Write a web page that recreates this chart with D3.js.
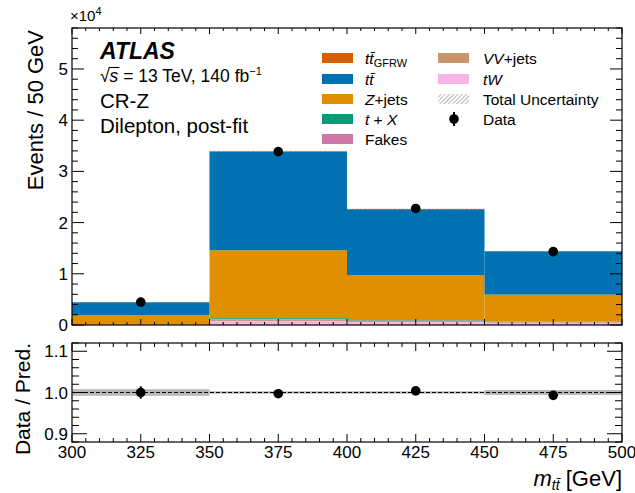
<!DOCTYPE html>
<html><head><meta charset="utf-8">
<script src="https://d3js.org/d3.v7.min.js"></script>
<style>body{margin:0;background:#fff}svg{font-family:"Liberation Sans",Arial,sans-serif}</style>
</head><body><svg id="c" width="635" height="493"></svg>
<script>
// ---- data ----
const binEdges = [300, 350, 400, 450, 500];
const ttGFRW = [20, 80, 60, 40];
const ttbar  = [2530, 19270, 12840, 8460];
const zjets  = [1850, 13250, 8800, 5200];
const tX     = [20, 150, 100, 80];
const fakes  = [10, 100, 70, 50];
const vvjets = [20, 300, 200, 150];
const tW     = [10, 800, 600, 450];
const dataVals = [4460, 33850, 22760, 14330];
const dataErr  = [67, 184, 151, 120];
const uncRel   = [0.008, 0.003, 0.003, 0.006];
const xTicks = [300, 325, 350, 375, 400, 425, 450, 475, 500];
const yTicks = [0, 1, 2, 3, 4, 5];
const rTicks = [0.9, 1.0, 1.1];

const stackOrder = [
  {name:"tW", vals:tW, color:"#f8b4e2"},
  {name:"VV+jets", vals:vvjets, color:"#c8966a"},
  {name:"Fakes", vals:fakes, color:"#cc79a7"},
  {name:"t+X", vals:tX, color:"#009e73"},
  {name:"Z+jets", vals:zjets, color:"#e08f00"},
  {name:"tt", vals:ttbar, color:"#0072b2"},
  {name:"ttGFRW", vals:ttGFRW, color:"#d55e00"}
];

const svg = d3.select("#c");
const L = 72, R = 622, mT = 28, mB = 325, rT = 343, rB = 442;
const x = d3.scaleLinear().domain([300, 500]).range([L, R]);
const y = d3.scaleLinear().domain([0, 5.8e4]).range([mB, mT]);
const yr = d3.scaleLinear().domain([0.88, 1.12]).range([rB, rT]);

const defs = svg.append("defs");
const pat = defs.append("pattern").attr("id","hatch").attr("patternUnits","userSpaceOnUse")
  .attr("width",3).attr("height",3).attr("patternTransform","rotate(45)");
pat.append("line").attr("x1",0).attr("y1",0).attr("x2",0).attr("y2",3).attr("stroke","#888").attr("stroke-width",1.2);

// stacked bars
const nb = binEdges.length - 1;
const bins = d3.range(nb);
const base = bins.map(() => 0);
stackOrder.forEach(s => {
  svg.append("g").selectAll("rect").data(bins).join("rect")
    .attr("x", i => x(binEdges[i]))
    .attr("width", i => x(binEdges[i+1]) - x(binEdges[i]))
    .attr("y", i => y(base[i] + s.vals[i]))
    .attr("height", i => y(base[i]) - y(base[i] + s.vals[i]))
    .attr("fill", s.color);
  bins.forEach(i => base[i] += s.vals[i]);
});
const total = base.slice();
// uncertainty hatch
svg.append("g").selectAll("rect").data(bins).join("rect")
  .attr("x", i => x(binEdges[i]))
  .attr("width", i => x(binEdges[i+1]) - x(binEdges[i]))
  .attr("y", i => y(total[i]*(1+uncRel[i])))
  .attr("height", i => Math.max(1.2, y(total[i]*(1-uncRel[i])) - y(total[i]*(1+uncRel[i]))))
  .attr("fill", "url(#hatch)");

// data points main
const dg = svg.append("g");
bins.forEach(i => {
  const cx = x((binEdges[i]+binEdges[i+1])/2);
  dg.append("line").attr("x1",cx).attr("x2",cx).attr("y1",y(dataVals[i]-dataErr[i])).attr("y2",y(dataVals[i]+dataErr[i])).attr("stroke","#000").attr("stroke-width",2);
  dg.append("circle").attr("cx",cx).attr("cy",y(dataVals[i])).attr("r",4.8).attr("fill","#000");
});

// ratio panel
bins.forEach(i => {
  svg.append("rect").attr("x", x(binEdges[i])).attr("width", x(binEdges[i+1]) - x(binEdges[i]))
    .attr("y", yr(1+uncRel[i])).attr("height", yr(1-uncRel[i]) - yr(1+uncRel[i]))
    .attr("fill", "#b8b8b8");
});
svg.append("line").attr("x1",L).attr("x2",R).attr("y1",yr(1)).attr("y2",yr(1)).attr("stroke","#000").attr("stroke-width",1).attr("stroke-dasharray","4,2");
bins.forEach(i => {
  const cx = x((binEdges[i]+binEdges[i+1])/2);
  const r = dataVals[i]/total[i], e = dataErr[i]/total[i];
  svg.append("line").attr("x1",cx).attr("x2",cx).attr("y1",yr(r-e)).attr("y2",yr(r+e)).attr("stroke","#000").attr("stroke-width",2);
  svg.append("circle").attr("cx",cx).attr("cy",yr(r)).attr("r",4.8).attr("fill","#000");
});

// axes helper
function ticksInward(g, scale, vals, len, orient) {
  vals.forEach(v => {
    const p = scale(v);
    if (orient === "bottom") g.append("line").attr("x1",p).attr("x2",p).attr("y1",0).attr("y2",-len);
    if (orient === "top") g.append("line").attr("x1",p).attr("x2",p).attr("y1",0).attr("y2",len);
    if (orient === "left") g.append("line").attr("y1",p).attr("y2",p).attr("x1",0).attr("x2",len);
    if (orient === "right") g.append("line").attr("y1",p).attr("y2",p).attr("x1",0).attr("x2",-len);
  });
  g.selectAll("line").attr("stroke","#000").attr("stroke-width",1);
}
const xMinor = d3.range(300, 501, 5).filter(v => v % 25 !== 0);
const yMinor = d3.range(0, 5.81e4, 2000).filter(v => v % 10000 !== 0);
const yMajor = yTicks.map(v => v*1e4);
const rMinor = d3.range(0.88, 1.121, 0.02).filter(v => Math.abs(v*10 - Math.round(v*10)) > 0.01);

function panel(top, bot, ys, yMaj, yMin, xMajLen, xMinLen, yMajLen, yMinLen) {
  const gb = svg.append("g").attr("transform",`translate(0,${bot})`);
  ticksInward(gb, x, xTicks, xMajLen, "bottom");
  ticksInward(gb, x, xMinor, xMinLen, "bottom");
  const gt = svg.append("g").attr("transform",`translate(0,${top})`);
  ticksInward(gt, x, xTicks, xMajLen, "top");
  ticksInward(gt, x, xMinor, xMinLen, "top");
  const gl = svg.append("g").attr("transform",`translate(${L},0)`);
  ticksInward(gl, ys, yMaj, yMajLen, "left");
  ticksInward(gl, ys, yMin, yMinLen, "left");
  const gr = svg.append("g").attr("transform",`translate(${R},0)`);
  ticksInward(gr, ys, yMaj, yMajLen, "right");
  ticksInward(gr, ys, yMin, yMinLen, "right");
  svg.append("rect").attr("x",L).attr("y",top).attr("width",R-L).attr("height",bot-top)
    .attr("fill","none").attr("stroke","#000").attr("stroke-width",1.2);
}
panel(mT, mB, y, yMajor, yMinor, 6, 3, 12, 6);
panel(rT, rB, yr, rTicks, rMinor, 8, 4, 15, 7);

// tick labels
const tf = 17;
svg.append("g").selectAll("text").data(yTicks).join("text")
  .attr("x", L-4).attr("y", d => y(d*1e4)+6).attr("text-anchor","end").attr("font-size",tf).text(d => d);
svg.append("g").selectAll("text").data(rTicks).join("text")
  .attr("x", L-4).attr("y", d => yr(d)+6).attr("text-anchor","end").attr("font-size",tf).text(d => d.toFixed(1));
svg.append("g").selectAll("text").data(xTicks).join("text")
  .attr("x", d => x(d)).attr("y", rB+16).attr("text-anchor","middle").attr("font-size",tf).text(d => d);

// exponent
const ex = svg.append("text").attr("x", L-2).attr("y", 21).attr("font-size",15);
ex.append("tspan").text("×10");
ex.append("tspan").attr("dy",-6).attr("font-size",11).text("4");

// axis titles (ATLAS style: aligned to top end of axis)
svg.append("text").attr("transform",`translate(43,${mT+2}) rotate(-90)`).attr("text-anchor","end").attr("font-size",22).text("Events / 50 GeV");
svg.append("text").attr("transform",`translate(30,${rT}) rotate(-90)`).attr("text-anchor","end").attr("font-size",21).text("Data / Pred.");
const xt = svg.append("text").attr("x", R).attr("y", 486).attr("text-anchor","end").attr("font-size",22);
xt.append("tspan").attr("font-style","italic").text("m");
xt.append("tspan").attr("font-style","italic").attr("font-size",14).attr("dy",4).text("tt̄");
xt.append("tspan").attr("dy",-4).text(" [GeV]");

// ATLAS labels
svg.append("text").attr("x",100).attr("y",59).attr("font-size",23).attr("font-weight","bold").attr("font-style","italic").text("ATLAS");
const sq = svg.append("text").attr("x",100).attr("y",82).attr("font-size",17.5);
sq.append("tspan").text("√");
const sTs = sq.append("tspan").attr("font-style","italic").text("s");
sq.append("tspan").text(" = 13 TeV, 140 fb");
sq.append("tspan").attr("dy",-7).attr("font-size",11).text("−1");
// overline of the square root
try {
  const n = sq.node();
  const st = n.getStartPositionOfChar(1).x, en = n.getEndPositionOfChar(1).x;
  const rs = n.getExtentOfChar(0);
  svg.append("line").attr("x1", rs.x + rs.width - 1).attr("x2", en + 1)
    .attr("y1", rs.y + 1.5).attr("y2", rs.y + 1.5).attr("stroke","#000").attr("stroke-width",1.1);
} catch(e) {}
svg.append("text").attr("x",100).attr("y",108).attr("font-size",20.5).text("CR-Z");
svg.append("text").attr("x",100).attr("y",133).attr("font-size",20.5).text("Dilepton, post-fit");

// legend
const legRows = [58, 79, 99, 119, 139];
const col1 = [
  {c:"#d55e00", lab:[["t","i"],["t̄","i"],["GFRW","sub"]]},
  {c:"#0072b2", lab:[["tt̄","i"]]},
  {c:"#e08f00", lab:[["Z","i"],["+jets",""]]},
  {c:"#009e73", lab:[["t","i"],[" + ",""],["X","i"]]},
  {c:"#cc79a7", lab:[["Fakes",""]]}
];
const col2 = [
  {c:"#c8966a", lab:[["VV","i"],["+jets",""]]},
  {c:"#f8b4e2", lab:[["tW","i"]]},
  {c:"hatch", lab:[["Total Uncertainty",""]]},
  {c:"data", lab:[["Data",""]]}
];
function legendCol(items, bx, tx) {
  items.forEach((it, k) => {
    const yc = legRows[k];
    if (it.c === "data") {
      const cx = bx + 16;
      svg.append("line").attr("x1",cx).attr("x2",cx).attr("y1",yc-7).attr("y2",yc+7).attr("stroke","#000").attr("stroke-width",2);
      svg.append("circle").attr("cx",cx).attr("cy",yc).attr("r",4.8).attr("fill","#000");
    } else {
      svg.append("rect").attr("x",bx).attr("y",yc-5).attr("width",31).attr("height",10)
        .attr("fill", it.c === "hatch" ? "url(#hatch)" : it.c);
    }
    const t = svg.append("text").attr("x",tx).attr("y",yc+5.5).attr("font-size",15.5);
    it.lab.forEach(([s, st]) => {
      if (st === "sub") t.append("tspan").attr("font-size",11).attr("dy",3).text(s);
      else {
        const sp = t.append("tspan").text(s);
        if (st === "i") sp.attr("font-style","italic");
      }
    });
  });
}
legendCol(col1, 322, 365);
legendCol(col2, 438, 483);
</script></body></html>
